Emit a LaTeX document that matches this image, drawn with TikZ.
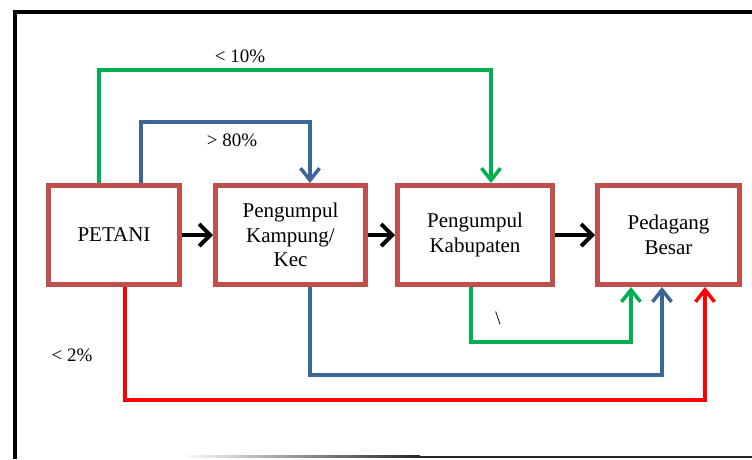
\documentclass[tikz,border=0pt]{standalone}
\usepackage{fontspec}
\setmainfont{Liberation Serif}
\usetikzlibrary{arrows.meta, positioning, calc}
\definecolor{cbox}{HTML}{C0504D}
\definecolor{cgreen}{HTML}{00B050}
\definecolor{cblue}{HTML}{3C6598}
\definecolor{cred}{HTML}{FF0000}
\tikzset{
  every picture/.style={x=1pt, y=-1pt},
  actor/.style={draw=cbox, line width=5pt, fill=white, align=center, minimum height=99pt,
    font=\fontsize{21}{24.5}\selectfont, inner sep=2pt},
  flow/.style={-{Straight Barb[length=11pt, width=22pt, line width=4pt]}, line width=4pt, draw=black},
  route/.style={-{Straight Barb[length=12pt, width=19pt, line width=3.5pt]}, line width=3.5pt, draw=#1},
  pct/.style={font=\fontsize{19}{22}\selectfont},
}
\begin{document}
\begin{tikzpicture}
  \useasboundingbox (0,0) rectangle (752,459);
  % ---------- frame ----------
  \draw[line width=4pt] (15,459) -- (15,12) -- (752,12);
  \shade[left color=white, right color=black!85] (180,455.5) rectangle (420,457.5);
  \fill[black!85] (420,455.5) rectangle (752,457.5);
  % ---------- actors ----------
  \node[actor, minimum width=131pt] (pet) at (114,235) {PETANI};
  \node[actor, minimum width=150pt] (kam) at (290.5,235) {Pengumpul\\Kampung/\\Kec};
  \node[actor, minimum width=155pt] (kab) at (475,235) {Pengumpul\\Kabupaten};
  \node[actor, minimum width=142pt] (bes) at (668.5,235) {Pedagang\\Besar};
  \draw[flow] (pet.east) -- (kam.west);
  \draw[flow] (kam.east) -- (kab.west);
  \draw[flow] (kab.east) -- (bes.west);
  % ---------- top routes ----------
  \draw[route=cgreen] ([xshift=-15pt]pet.north) |- ([xshift=16pt, yshift=113pt]kab.north) -- ([xshift=16pt]kab.north);
  \draw[route=cblue] ([xshift=27pt]pet.north) |- ([xshift=19.5pt, yshift=61pt]kam.north) -- ([xshift=19.5pt]kam.north);
  \node[pct] (ten) at (240,56) {< 10\%};
  \node[pct] (eighty) at (232,140) {> 80\%};
  % ---------- bottom routes ----------
  \draw[route=cgreen] ([xshift=-4pt]kab.south) |- ([xshift=-37.5pt, yshift=-55pt]bes.south) -- ([xshift=-37.5pt]bes.south);
  \draw[route=cblue] ([xshift=19.5pt]kam.south) |- ([xshift=-6.5pt, yshift=-88pt]bes.south) -- ([xshift=-6.5pt]bes.south);
  \draw[route=cred] ([xshift=11pt]pet.south) |- ([xshift=36.5pt, yshift=-113pt]bes.south) -- ([xshift=36.5pt]bes.south);
  \node[pct] (slash) at (498,318) {\textbackslash};
  \node[pct] (two) at (72,355) {< 2\%};
\end{tikzpicture}
\end{document}
